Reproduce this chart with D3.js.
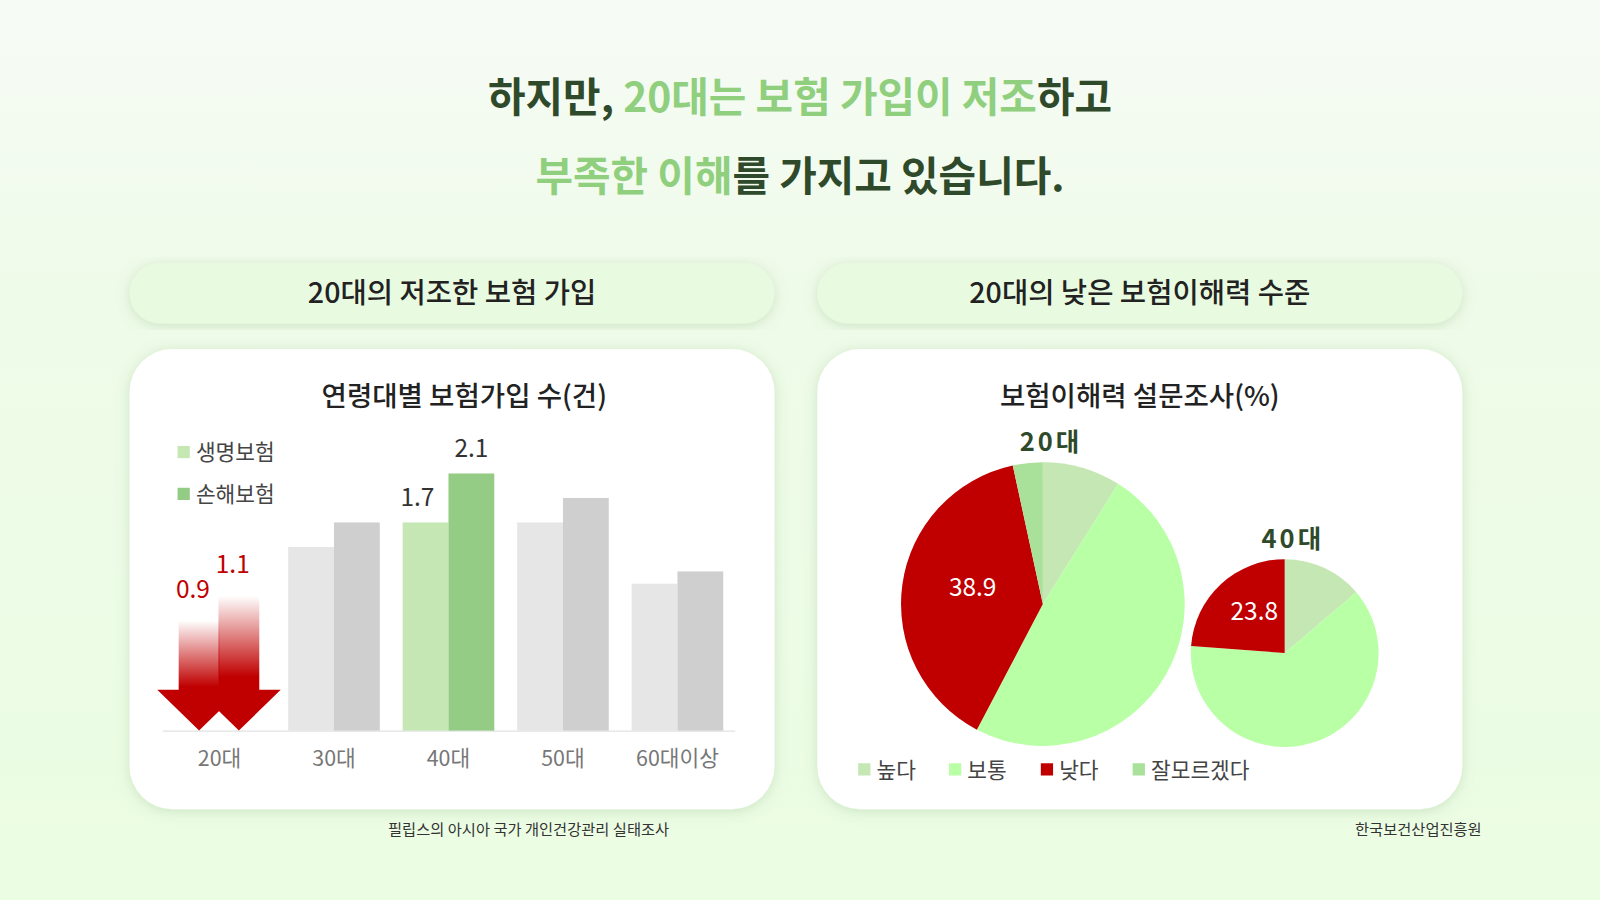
<!DOCTYPE html>
<html><head><meta charset="utf-8">
<script src="https://cdn.jsdelivr.net/npm/d3@7"></script>
<style>
body{margin:0;width:1600px;height:900px;overflow:hidden;font-family:"Noto Sans CJK KR","Noto Sans",sans-serif;}
</style></head><body>
<svg id="c" width="1600" height="900"></svg>
<script>
// data
var ageGroups = ["20대", "30대", "40대", "50대", "60대이상"];
var lifeIns = [0.9, 1.5, 1.7, 1.7, 1.2];     // 생명보험
var nonLifeIns = [1.1, 1.7, 2.1, 1.9, 1.3];  // 손해보험
var pieCats = ["높다", "보통", "낮다", "잘모르겠다"];
var pie20 = [8.9, 48.8, 38.9, 3.4];
var pie40 = [13.8, 62.4, 23.8, 0];

var root = d3.select("#c");
var defs = root.append("defs");
var bg = defs.append("linearGradient").attr("id", "bg").attr("x1", 0).attr("y1", 0).attr("x2", 0).attr("y2", 1);
bg.append("stop").attr("offset", 0).attr("stop-color", "#f7fbf6");
bg.append("stop").attr("offset", 0.35).attr("stop-color", "#eefbe8");
bg.append("stop").attr("offset", 1).attr("stop-color", "#ebfde3");
var ag = defs.append("linearGradient").attr("id", "arrowG").attr("x1", 0).attr("y1", 0).attr("x2", 0).attr("y2", 1);
ag.append("stop").attr("offset", 0).attr("stop-color", "#c00000").attr("stop-opacity", 0);
ag.append("stop").attr("offset", 0.6).attr("stop-color", "#c00000").attr("stop-opacity", 1);
ag.append("stop").attr("offset", 1).attr("stop-color", "#c00000").attr("stop-opacity", 1);
var sh = defs.append("filter").attr("id", "sh").attr("x", -0.1).attr("y", -0.1).attr("width", 1.2).attr("height", 1.2);
sh.append("feDropShadow").attr("dx", 0).attr("dy", 2).attr("stdDeviation", 6).attr("flood-color", "#6a9a5a").attr("flood-opacity", 0.25);

root.append("rect").attr("width", 1600).attr("height", 900).attr("fill", "url(#bg)");
// layout was measured on a 1568-wide view, scale up to 1600
var svg = root.append("g").attr("transform", "scale(" + (1600 / 1568) + ")");

// headline
var dark = "#2f4a2a", green = "#8fcf7e";
function headline(y, parts) {
  var t = svg.append("text").attr("x", 784).attr("y", y).attr("text-anchor", "middle")
    .attr("font-size", 40).attr("font-weight", 700);
  parts.forEach(function (p) { t.append("tspan").attr("fill", p[1] ? green : dark).text(p[0]); });
}
headline(110, [["하지만, ", 0], ["20대는 보험 가입이 저조", 1], ["하고", 0]]);
headline(187, [["부족한 이해", 1], ["를 가지고 있습니다.", 0]]);

// pills + cards
[[127, "20대의 저조한 보험 가입"], [801, "20대의 낮은 보험이해력 수준"]].forEach(function (d) {
  svg.append("rect").attr("x", d[0]).attr("y", 258).attr("width", 632).attr("height", 59).attr("rx", 30)
    .attr("fill", "#e8fbe0").attr("filter", "url(#sh)");
  svg.append("text").attr("x", d[0] + 316).attr("y", 297).attr("text-anchor", "middle")
    .attr("font-size", 28).attr("font-weight", 500).attr("fill", "#222").text(d[1]);
  svg.append("rect").attr("x", d[0]).attr("y", 342).attr("width", 632).attr("height", 451).attr("rx", 42)
    .attr("fill", "#fff").attr("filter", "url(#sh)");
});
svg.append("text").attr("x", 455).attr("y", 398).attr("text-anchor", "middle").attr("font-size", 27)
  .attr("font-weight", 500).attr("fill", "#222").text("연령대별 보험가입 수(건)");
svg.append("text").attr("x", 1117).attr("y", 398).attr("text-anchor", "middle").attr("font-size", 27)
  .attr("font-weight", 500).attr("fill", "#222").text("보험이해력 설문조사(%)");
svg.append("text").attr("x", 518).attr("y", 818).attr("text-anchor", "middle").attr("font-size", 15).attr("fill", "#333").text("필립스의 아시아 국가 개인건강관리 실태조사");
svg.append("text").attr("x", 1390).attr("y", 818).attr("text-anchor", "middle").attr("font-size", 15).attr("fill", "#333").text("한국보건산업진흥원");

// bar chart
var x = d3.scaleBand().domain(ageGroups).range([159, 720]).paddingInner(0.2).paddingOuter(0.1);
var y = d3.scaleLinear().domain([0, 2.1]).range([716, 464]);
var g = svg.append("g");
var ax = g.append("g").attr("transform", "translate(0,716)")
  .call(d3.axisBottom(x).tickSize(0).tickPadding(20).tickSizeOuter(0));
ax.select(".domain").attr("stroke", "#e2e2e2");
ax.selectAll("text").attr("font-size", 21).attr("fill", "#777").attr("font-family", "'Noto Sans CJK KR'");
var bw = x.bandwidth() / 2;
ageGroups.forEach(function (a, i) {
  if (i === 0) return;
  var hl = a === "40대";
  g.append("rect").attr("x", x(a)).attr("y", y(lifeIns[i])).attr("width", bw).attr("height", 716 - y(lifeIns[i]))
    .attr("fill", hl ? "#c5e7b3" : "#e6e6e6");
  g.append("rect").attr("x", x(a) + bw).attr("y", y(nonLifeIns[i])).attr("width", bw).attr("height", 716 - y(nonLifeIns[i]))
    .attr("fill", hl ? "#94cc86" : "#d0cfd0");
  if (hl) {
    g.append("text").attr("x", x(a) + bw / 2 - 8).attr("y", y(lifeIns[i]) - 16).attr("text-anchor", "middle")
      .attr("font-size", 24).attr("fill", "#333").text(lifeIns[i]);
    g.append("text").attr("x", x(a) + bw * 1.5).attr("y", y(nonLifeIns[i]) - 16).attr("text-anchor", "middle")
      .attr("font-size", 24).attr("fill", "#333").text(nonLifeIns[i]);
  }
});
// 20대 arrows
[[lifeIns[0], x("20대") - 20], [nonLifeIns[0], x("20대") + 19]].forEach(function (d) {
  var top = y(d[0]), cx = d[1] + bw;
  var headTop = 676, hw = 41, sw = 20;
  g.append("path").attr("d", "M" + (cx - sw) + "," + top + "H" + (cx + sw) + "V" + headTop + "H" + (cx + hw) +
    "L" + cx + ",716L" + (cx - hw) + "," + headTop + "H" + (cx - sw) + "Z").attr("fill", "url(#arrowG)");
  g.append("text").attr("x", cx - 6).attr("y", top - 22).attr("text-anchor", "middle").attr("font-size", 24)
    .attr("fill", "#c00000").text(d[0]);
});
// legend
[["생명보험", "#c5e7b3"], ["손해보험", "#94cc86"]].forEach(function (d, i) {
  g.append("rect").attr("x", 174).attr("y", 437 + i * 41).attr("width", 12).attr("height", 12).attr("fill", d[1]);
  g.append("text").attr("x", 192).attr("y", 451 + i * 41).attr("font-size", 21).attr("fill", "#444").text(d[0]);
});

// pies
var pieColors = d3.scaleOrdinal().domain(pieCats).range(["#c5e7b3", "#b9ffa5", "#c00000", "#a9e09a"]);
var pie = d3.pie().sort(null);
function drawPie(vals, cx, cy, r, label, ly) {
  var arc = d3.arc().innerRadius(0).outerRadius(r);
  var pg = svg.append("g").attr("transform", "translate(" + cx + "," + cy + ")");
  pg.selectAll("path").data(pie(vals)).enter().append("path").attr("d", arc)
    .attr("fill", function (d, i) { return pieColors(pieCats[i]); });
  svg.append("text").attr("x", cx + 8).attr("y", ly).attr("text-anchor", "middle").attr("font-size", 25)
    .attr("font-weight", 700).attr("letter-spacing", 3).attr("fill", "#2f4a2a").text(label);
  var a = pie(vals)[2], la = d3.arc().innerRadius(r * 0.55).outerRadius(r * 0.55);
  var c = la.centroid(a);
  pg.append("text").attr("x", c[0] + r * 0.05).attr("y", c[1] - r * 0.05 + 9).attr("text-anchor", "middle")
    .attr("font-size", 24).attr("fill", "#fff").text(vals[2]);
}
drawPie(pie20, 1022, 592, 139, "20대", 442);
drawPie(pie40, 1259, 640, 92, "40대", 537);
var lx = [841, 930, 1020, 1110];
pieCats.forEach(function (c, i) {
  svg.append("rect").attr("x", lx[i]).attr("y", 748).attr("width", 12).attr("height", 12).attr("fill", pieColors(c));
  svg.append("text").attr("x", lx[i] + 18).attr("y", 762).attr("font-size", 21).attr("fill", "#444").text(c);
});
</script></body></html>
